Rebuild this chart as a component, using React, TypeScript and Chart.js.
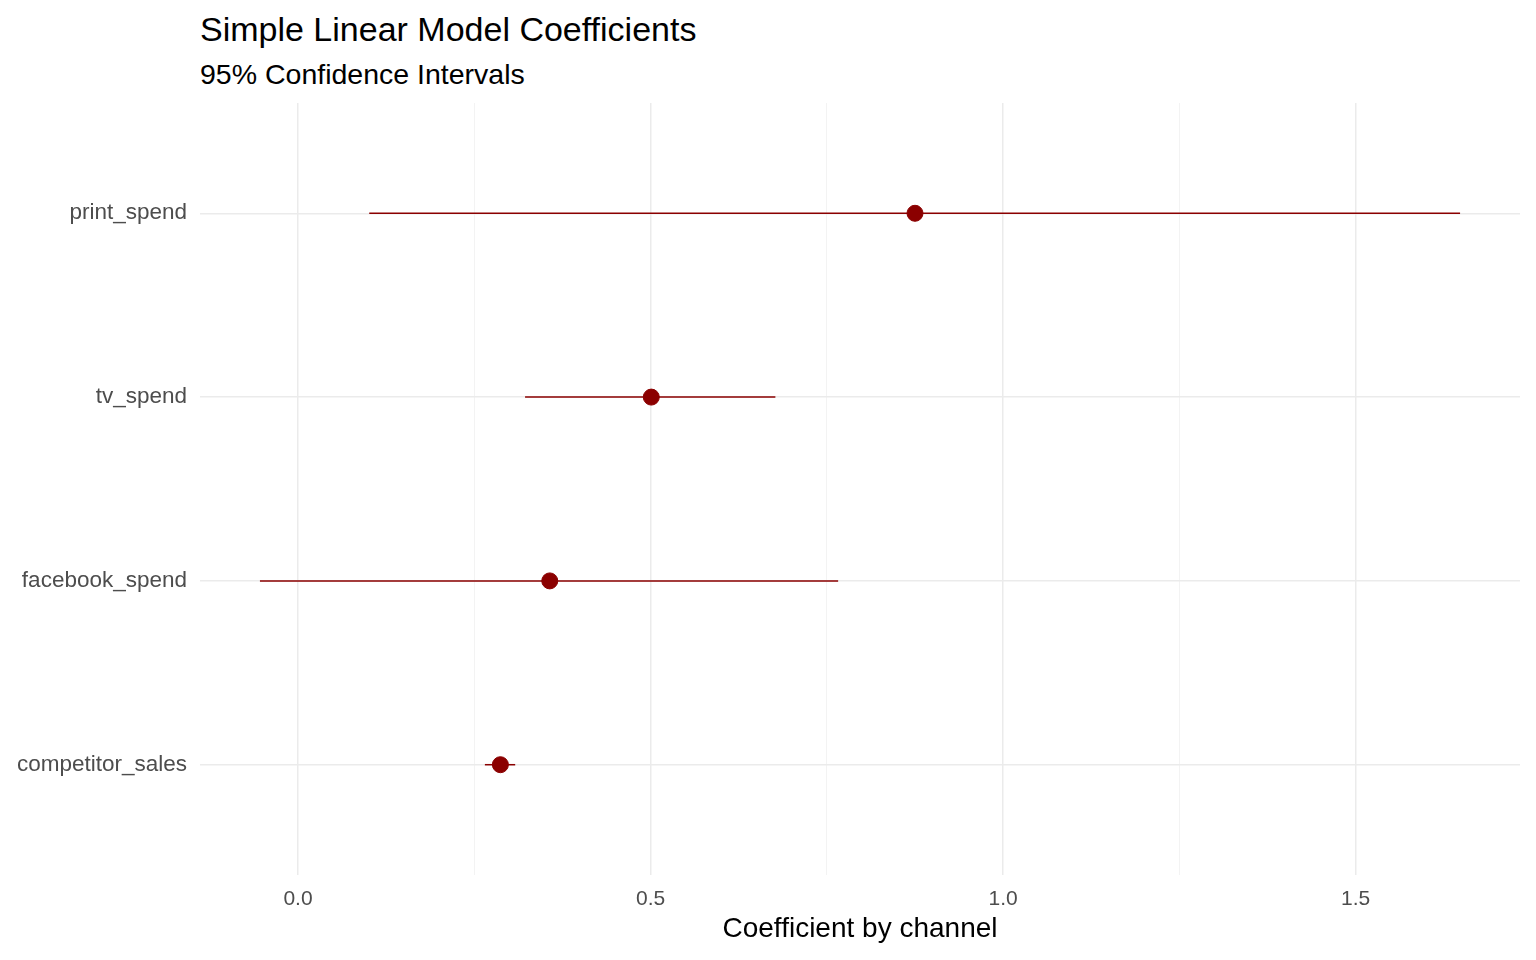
import React, { useEffect, useRef } from "react";
import Chart from "chart.js/auto";

const channels = ["print_spend", "tv_spend", "facebook_spend", "competitor_sales"];
const estimates = [0.875, 0.501, 0.357, 0.287];
const lower = [0.101, 0.322, -0.054, 0.265];
const upper = [1.648, 0.677, 0.766, 0.308];
const xTicks = [0.0, 0.5, 1.0, 1.5];

const RED = "#8B0000";

const App: React.FC = () => {
  const canvasRef = useRef<HTMLCanvasElement>(null);
  const chartRef = useRef<Chart | null>(null);

  useEffect(() => {
    if (!canvasRef.current) return;
    if (chartRef.current) chartRef.current.destroy();

    const intervals = channels.map((c, i) => ({
      type: "line" as const,
      label: c + " CI",
      data: [
        { x: lower[i], y: i },
        { x: upper[i], y: i },
      ],
      borderColor: RED,
      borderWidth: 1.5,
      pointRadius: 0,
      showLine: true,
    }));

    chartRef.current = new Chart(canvasRef.current, {
      type: "scatter",
      data: {
        datasets: [
          ...intervals,
          {
            type: "scatter" as const,
            label: "estimate",
            data: channels.map((_, i) => ({ x: estimates[i], y: i })),
            backgroundColor: RED,
            borderColor: RED,
            pointRadius: 8,
          },
        ] as any,
      },
      options: {
        animation: false,
        responsive: false,
        layout: { padding: { top: 103, right: 16, left: 0, bottom: 0 } },
        plugins: { legend: { display: false }, tooltip: { enabled: false }, title: { display: false } },
        scales: {
          x: {
            type: "linear",
            min: -0.139,
            max: 1.733,
            afterBuildTicks: (scale: any) => {
              scale.ticks = [0, 0.25, 0.5, 0.75, 1.0, 1.25, 1.5].map((v) => ({ value: v }));
            },
            afterFit: (scale: any) => {
              scale.height = 85;
            },
            border: { display: false },
            grid: {
              color: (ctx: any) =>
                xTicks.includes(ctx.tick?.value) ? "#ebebeb" : "#f3f3f3",
              lineWidth: (ctx: any) => (xTicks.includes(ctx.tick?.value) ? 1.5 : 1),
              drawTicks: false,
            },
            ticks: {
              padding: 12,
              color: "#4d4d4d",
              font: { family: "Liberation Sans, Arial", size: 21 },
              callback: (v: any) => (xTicks.includes(v) ? Number(v).toFixed(1) : ""),
            },
            title: {
              display: true,
              text: "Coefficient by channel",
              color: "#000",
              font: { family: "Liberation Sans, Arial", size: 28 },
              padding: { top: 0, bottom: 14 },
            },
          },
          y: {
            type: "linear",
            min: -0.6,
            max: 3.6,
            reverse: true,
            afterBuildTicks: (scale: any) => {
              scale.ticks = channels.map((_, i) => ({ value: i }));
            },
            afterFit: (scale: any) => {
              scale.width = 200;
            },
            border: { display: false },
            grid: { color: "#ebebeb", lineWidth: 1.5, drawTicks: false },
            ticks: {
              padding: 13,
              color: "#4d4d4d",
              font: { family: "Liberation Sans, Arial", size: 22.5 },
              callback: (v: any) => channels[v] ?? "",
            },
          },
        },
      },
    });

    return () => {
      if (chartRef.current) {
        chartRef.current.destroy();
        chartRef.current = null;
      }
    };
  }, []);

  return (
    <div style={{ position: "fixed", left: 0, top: 0, width: 1536, height: 960, background: "#fff", fontFamily: "Liberation Sans, Arial" }}>
      <div style={{ position: "absolute", left: 200, top: 10, fontSize: 34, color: "#000" }}>
        Simple Linear Model Coefficients
      </div>
      <div style={{ position: "absolute", left: 200, top: 58, fontSize: 28.5, color: "#000" }}>
        95% Confidence Intervals
      </div>
      <canvas ref={canvasRef} width={1536} height={960} style={{ position: "absolute", left: 0, top: 0 }} />
    </div>
  );
};

export default App;
